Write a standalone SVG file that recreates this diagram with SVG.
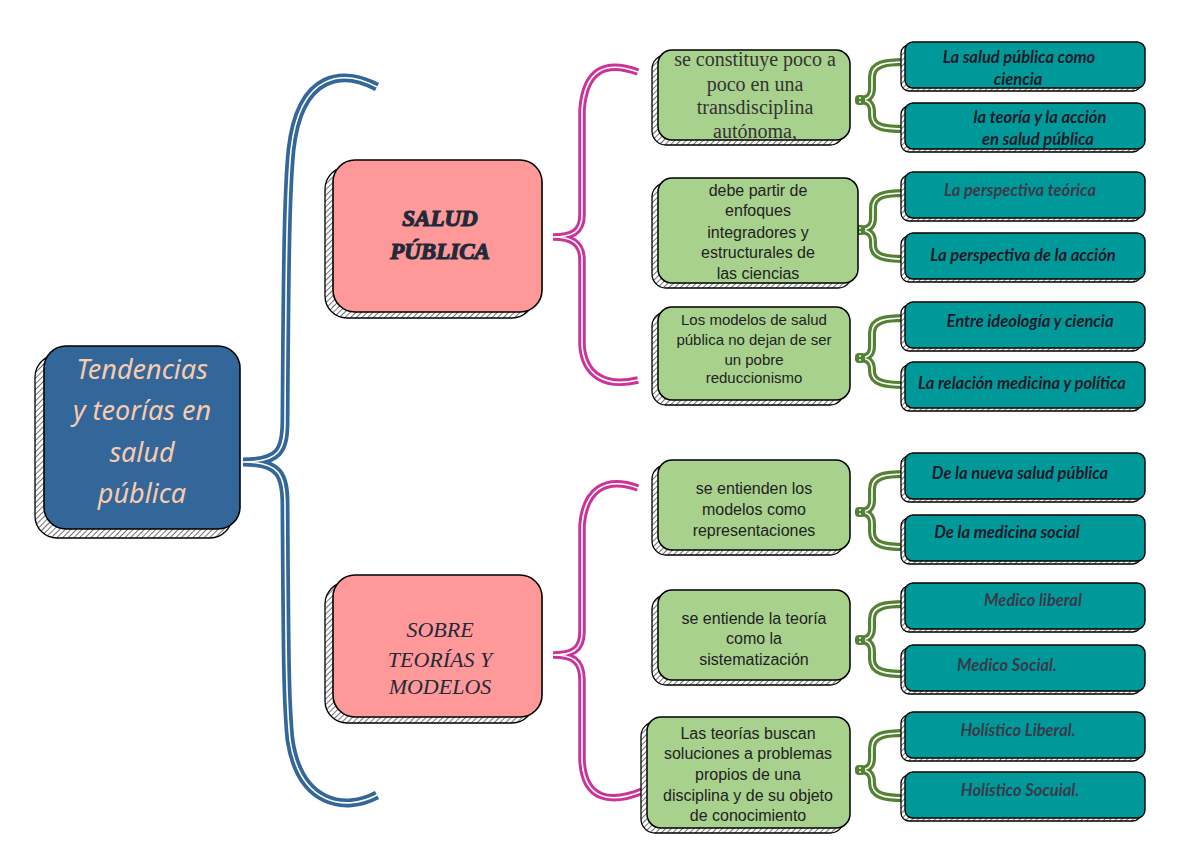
<svg xmlns="http://www.w3.org/2000/svg" width="1200" height="849" viewBox="0 0 1200 849">
<defs>
<pattern id="hatch" width="4" height="4" patternUnits="userSpaceOnUse" patternTransform="rotate(45)">
<rect width="4" height="4" fill="#fff"/>
<line x1="0" y1="0" x2="0" y2="4" stroke="#333" stroke-width="1.4"/>
</pattern>
<style>
.sh{fill:url(#hatch);stroke:#000;stroke-width:1.3}
.main{fill:#336699;stroke:#000;stroke-width:1.6}
.pink{fill:#FF9999;stroke:#000;stroke-width:1.6}
.green{fill:#A9D18E;stroke:#000;stroke-width:1.5}
.teal{fill:#009999;stroke:#000;stroke-width:1.4}
.mt{font-family:"Noto Sans",sans-serif;font-style:italic;font-size:27px;fill:#F8CBAD;text-anchor:middle}
.st{font-family:"Liberation Serif",serif;font-weight:bold;font-style:italic;font-size:23px;fill:#1F2A3A;stroke:#1F2A3A;stroke-width:1.2;text-anchor:middle}
.sm{font-family:"Liberation Serif",serif;font-style:italic;font-size:22px;fill:#1F2A3A;text-anchor:middle}
.gs{font-family:"Liberation Serif",serif;font-size:20px;fill:#333;text-anchor:middle}
.ga{font-family:"Liberation Sans",Arial,sans-serif;font-size:16px;fill:#222;text-anchor:middle}
.tb{font-family:Lato,"Liberation Sans",sans-serif;font-weight:bold;font-style:italic;font-size:16.5px;fill:#1A1A2A;text-anchor:middle}
.tg{font-family:Lato,"Liberation Sans",sans-serif;font-weight:bold;font-style:italic;font-size:16.5px;fill:#3A3A4C;text-anchor:middle}
.bo{fill:none;stroke:#336699;stroke-width:9}
.po{fill:none;stroke:#CC3399;stroke-width:7.5}
.go{fill:none;stroke:#548235;stroke-width:8}
.in{fill:none;stroke:#fff;stroke-width:1.6}
</style>
</defs>
<rect width="1200" height="849" fill="#fff"/>

<g id="connectors">
<path class="bo" d="M377,87 C345,70 300,70 291,150 C287,190 286,260 285,420 C285,450 280,462 243,462 M243,462 C280,462 285,475 285,505 C286,650 286,700 290,740 C300,805 345,812 377,795"/>
<path class="in" d="M377,87 C345,70 300,70 291,150 C287,190 286,260 285,420 C285,450 280,462 243,462 M243,462 C280,462 285,475 285,505 C286,650 286,700 290,740 C300,805 345,812 377,795"/>
<path class="po" d="M638,72 C605,60 585,70 582,110 L582,215 C582,232 572,237 553,237 M553,237 C572,237 582,243 582,260 L582,345 C584,375 605,388 638,380"/>
<path class="in" d="M638,72 C605,60 585,70 582,110 L582,215 C582,232 572,237 553,237 M553,237 C572,237 582,243 582,260 L582,345 C584,375 605,388 638,380"/>
<path class="po" d="M638,488 C605,476 585,490 582,525 L582,632 C582,650 572,655 553,655 M553,655 C572,655 582,660 582,680 L582,760 C584,800 610,805 645,790"/>
<path class="in" d="M638,488 C605,476 585,490 582,525 L582,632 C582,650 572,655 553,655 M553,655 C572,655 582,660 582,680 L582,760 C584,800 610,805 645,790"/>
<g id="gb1"><path class="go" d="M905,62 C885,62 872,64 872,77 L872,88 C872,97 868,100 858,100 M858,100 C868,100 872,103 872,112 L872,115 C872,128 885,129 905,129"/><path class="in" d="M905,62 C885,62 872,64 872,77 L872,88 C872,97 868,100 858,100 M858,100 C868,100 872,103 872,112 L872,115 C872,128 885,129 905,129"/></g>
<g id="gb2"><path class="go" d="M905,193 C885,193 873,195 873,208 L873,218 C873,227 868,230 858,230 M858,230 C868,230 873,233 873,242 L873,245 C873,257 885,259 905,259"/><path class="in" d="M905,193 C885,193 873,195 873,208 L873,218 C873,227 868,230 858,230 M858,230 C868,230 873,233 873,242 L873,245 C873,257 885,259 905,259"/></g>
<g id="gb3"><path class="go" d="M905,318 C885,318 872,320 872,333 L872,346 C872,355 868,358 858,358 M858,358 C868,358 872,361 872,370 L872,371 C872,383 885,385 905,385"/><path class="in" d="M905,318 C885,318 872,320 872,333 L872,346 C872,355 868,358 858,358 M858,358 C868,358 872,361 872,370 L872,371 C872,383 885,385 905,385"/></g>
<g id="gb4"><path class="go" d="M905,474 C885,474 872,476 872,489 L872,500 C872,509 868,512 858,512 M858,512 C868,512 872,515 872,524 L872,532 C872,545 885,547 905,547"/><path class="in" d="M905,474 C885,474 872,476 872,489 L872,500 C872,509 868,512 858,512 M858,512 C868,512 872,515 872,524 L872,532 C872,545 885,547 905,547"/></g>
<g id="gb5"><path class="go" d="M905,604 C885,604 872,606 872,619 L872,628 C872,637 868,640 858,640 M858,640 C868,640 872,643 872,652 L872,659 C872,672 885,674 905,674"/><path class="in" d="M905,604 C885,604 872,606 872,619 L872,628 C872,637 868,640 858,640 M858,640 C868,640 872,643 872,652 L872,659 C872,672 885,674 905,674"/></g>
<g id="gb6"><path class="go" d="M905,733 C885,733 872,735 872,748 L872,758 C872,767 868,770 858,770 M858,770 C868,770 872,773 872,782 L872,783 C872,796 885,798 905,798"/><path class="in" d="M905,733 C885,733 872,735 872,748 L872,758 C872,767 868,770 858,770 M858,770 C868,770 872,773 872,782 L872,783 C872,796 885,798 905,798"/></g>
<g fill="#548235">
<rect x="855" y="95" width="10" height="10" rx="4"/><rect x="855" y="225" width="10" height="10" rx="4"/><rect x="855" y="353" width="10" height="10" rx="4"/><rect x="855" y="507" width="10" height="10" rx="4"/><rect x="855" y="635" width="10" height="10" rx="4"/><rect x="855" y="765" width="10" height="10" rx="4"/>
</g>
<g fill="#fff">
<circle cx="860" cy="98" r="0.9"/><circle cx="860" cy="102" r="0.9"/><circle cx="860" cy="228" r="0.9"/><circle cx="860" cy="232" r="0.9"/><circle cx="860" cy="356" r="0.9"/><circle cx="860" cy="360" r="0.9"/><circle cx="860" cy="510" r="0.9"/><circle cx="860" cy="514" r="0.9"/><circle cx="860" cy="638" r="0.9"/><circle cx="860" cy="642" r="0.9"/><circle cx="860" cy="768" r="0.9"/><circle cx="860" cy="772" r="0.9"/>
</g>
</g>

<g id="n-main">
<rect class="sh" x="35" y="355" width="197" height="183" rx="22"/>
<rect class="main" x="44" y="346" width="196" height="183" rx="22"/>
<text class="mt" x="142" y="379">Tendencias</text>
<text class="mt" x="142" y="420">y teorías en</text>
<text class="mt" x="142" y="462">salud</text>
<text class="mt" x="142" y="503">pública</text>
</g>

<g id="n-salud">
<rect class="sh" x="325" y="167" width="209" height="151" rx="22"/>
<rect class="pink" x="333" y="160" width="209" height="152" rx="22"/>
<text class="st" x="440" y="226">SALUD</text>
<text class="st" x="440" y="259">PÚBLICA</text>
</g>

<g id="n-sobre">
<rect class="sh" x="325" y="582" width="209" height="141" rx="22"/>
<rect class="pink" x="333" y="575" width="209" height="142" rx="22"/>
<text class="sm" x="440" y="637">SOBRE</text>
<text class="sm" x="440" y="667">TEORÍAS Y</text>
<text class="sm" x="440" y="694">MODELOS</text>
</g>

<g id="n-g1">
<rect class="sh" x="652" y="55" width="192" height="90" rx="14"/>
<rect class="green" x="658" y="50" width="192" height="90" rx="14"/>
<text class="gs" x="755" y="66">se constituye poco a</text>
<text class="gs" x="755" y="91">poco en una</text>
<text class="gs" x="755" y="114">transdisciplina</text>
<text class="gs" x="755" y="138">autónoma,</text>
</g>

<g id="n-g2">
<rect class="sh" x="652" y="183" width="200" height="105" rx="14"/>
<rect class="green" x="658" y="178" width="200" height="105" rx="14"/>
<text class="ga" x="758" y="196">debe partir de</text>
<text class="ga" x="758" y="216">enfoques</text>
<text class="ga" x="758" y="238">integradores y</text>
<text class="ga" x="758" y="258">estructurales de</text>
<text class="ga" x="758" y="279">las ciencias</text>
</g>

<g id="n-g3">
<rect class="sh" x="652" y="312" width="192" height="93" rx="14"/>
<rect class="green" x="658" y="307" width="192" height="93" rx="14"/>
<text class="ga" x="754" y="325" style="font-size:15px">Los modelos de salud</text>
<text class="ga" x="754" y="345" style="font-size:15px">pública no dejan de ser</text>
<text class="ga" x="754" y="365" style="font-size:15px">un pobre</text>
<text class="ga" x="754" y="383" style="font-size:15px">reduccionismo</text>
</g>

<g id="n-g4">
<rect class="sh" x="652" y="465" width="192" height="90" rx="14"/>
<rect class="green" x="658" y="460" width="192" height="90" rx="14"/>
<text class="ga" x="754" y="494">se entienden los</text>
<text class="ga" x="754" y="515">modelos como</text>
<text class="ga" x="754" y="536">representaciones</text>
</g>

<g id="n-g5">
<rect class="sh" x="652" y="595" width="192" height="90" rx="14"/>
<rect class="green" x="658" y="590" width="192" height="90" rx="14"/>
<text class="ga" x="754" y="624">se entiende la teoría</text>
<text class="ga" x="754" y="644">como la</text>
<text class="ga" x="754" y="665">sistematización</text>
</g>

<g id="n-g6">
<rect class="sh" x="641" y="722" width="203" height="111" rx="14"/>
<rect class="green" x="647" y="717" width="203" height="111" rx="14"/>
<text class="ga" x="748" y="739">Las teorías buscan</text>
<text class="ga" x="748" y="759">soluciones a problemas</text>
<text class="ga" x="748" y="780">propios de una</text>
<text class="ga" x="748" y="801">disciplina y de su objeto</text>
<text class="ga" x="748" y="821">de conocimiento</text>
</g>

<g id="n-t1"><rect class="sh" x="901" y="45" width="240" height="46" rx="8"/><rect class="teal" x="905" y="42" width="240" height="46" rx="8"/>
<text class="tb" x="1019" y="63">La salud pública como</text><text class="tb" x="1018" y="85">ciencia</text></g>
<g id="n-t2"><rect class="sh" x="901" y="106" width="240" height="46" rx="8"/><rect class="teal" x="905" y="103" width="240" height="46" rx="8"/>
<text class="tb" x="1040" y="123">la teoría y la acción</text><text class="tb" x="1038" y="145">en salud pública</text></g>
<g id="n-t3"><rect class="sh" x="901" y="175" width="240" height="46" rx="8"/><rect class="teal" x="905" y="172" width="240" height="46" rx="8"/>
<text class="tg" x="1020" y="196">La perspectiva teórica</text></g>
<g id="n-t4"><rect class="sh" x="901" y="236" width="240" height="46" rx="8"/><rect class="teal" x="905" y="233" width="240" height="46" rx="8"/>
<text class="tb" x="1023" y="261">La perspectiva de la acción</text></g>
<g id="n-t5"><rect class="sh" x="901" y="305" width="240" height="46" rx="8"/><rect class="teal" x="905" y="302" width="240" height="46" rx="8"/>
<text class="tb" x="1030" y="327">Entre ideología y ciencia</text></g>
<g id="n-t6"><rect class="sh" x="901" y="365" width="240" height="46" rx="8"/><rect class="teal" x="905" y="362" width="240" height="46" rx="8"/>
<text class="tb" x="1022" y="389">La relación medicina y política</text></g>
<g id="n-t7"><rect class="sh" x="901" y="456" width="240" height="46" rx="8"/><rect class="teal" x="905" y="453" width="240" height="46" rx="8"/>
<text class="tb" x="1020" y="479">De la nueva salud pública</text></g>
<g id="n-t8"><rect class="sh" x="901" y="518" width="240" height="46" rx="8"/><rect class="teal" x="905" y="515" width="240" height="46" rx="8"/>
<text class="tb" x="1007" y="538">De la medicina social</text></g>
<g id="n-t9"><rect class="sh" x="901" y="586" width="240" height="46" rx="8"/><rect class="teal" x="905" y="583" width="240" height="46" rx="8"/>
<text class="tg" x="1033" y="606">Medico liberal</text></g>
<g id="n-t10"><rect class="sh" x="901" y="648" width="240" height="46" rx="8"/><rect class="teal" x="905" y="645" width="240" height="46" rx="8"/>
<text class="tg" x="1007" y="671">Medico Social.</text></g>
<g id="n-t11"><rect class="sh" x="901" y="715" width="240" height="46" rx="8"/><rect class="teal" x="905" y="712" width="240" height="46" rx="8"/>
<text class="tg" x="1018" y="736">Holístico Liberal.</text></g>
<g id="n-t12"><rect class="sh" x="901" y="775" width="240" height="46" rx="8"/><rect class="teal" x="905" y="772" width="240" height="46" rx="8"/>
<text class="tg" x="1020" y="796">Holístico Socuial.</text></g>
</svg>
